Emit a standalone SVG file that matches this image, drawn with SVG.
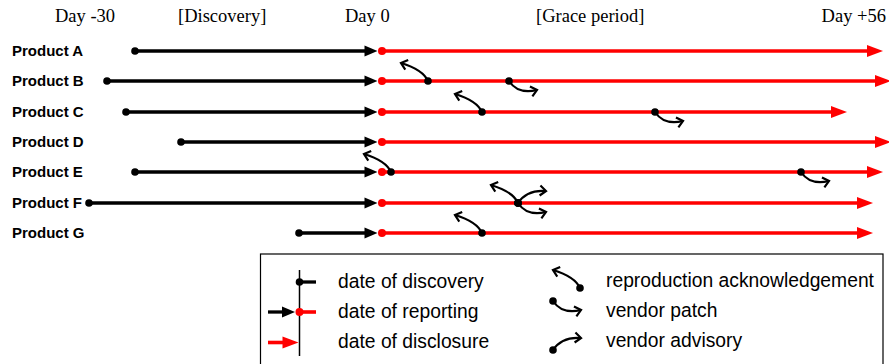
<svg xmlns="http://www.w3.org/2000/svg" width="889" height="364" viewBox="0 0 889 364">
<style>
.hdr{font-family:"Liberation Serif","Times New Roman",serif;font-size:18.5px;fill:#000}
.prod{font-family:"Liberation Sans",Arial,sans-serif;font-size:15px;font-weight:bold;fill:#000}
.leg{font-family:"Liberation Sans",Arial,sans-serif;font-size:19.3px;fill:#000}
.bl{stroke:#000;stroke-width:3.3;fill:none}
.rl{stroke:#f00;stroke-width:3.6;fill:none}
.bdot{fill:#000}
.rdot{fill:#f00}
.bhead{fill:#000}
.rhead{fill:#f00}
.cv{stroke:#000;stroke-width:2.2;fill:none;marker-end:url(#chev)}
</style>
<defs>
<marker id="chev" markerUnits="userSpaceOnUse" markerWidth="14" markerHeight="14" viewBox="-10 -7 14 14" refX="0" refY="0" orient="auto">
<path d="M-6,-5 L0,0 L-6,5" stroke="#000" stroke-width="2.2" fill="none" stroke-linejoin="miter"/>
</marker>
<g id="ack"><path class="cv" d="M0,0 C-4,-9 -14,-14 -27,-18"/><circle class="bdot" cx="0" cy="0" r="3.8"/></g>
<g id="patch"><path class="cv" d="M0,0 C6,9 16,12 28,9"/><circle class="bdot" cx="0" cy="0" r="3.8"/></g>
<g id="adv"><path class="cv" d="M0,0 C6,-9 16,-13 28,-12"/><circle class="bdot" cx="0" cy="0" r="3.8"/></g>
<path id="bh" d="M-13,-5.5 L0,0 L-13,5.5 Z"/>
<path id="rh" d="M-16,-6 L0,0 L-16,6 Z"/>
</defs>

<g id="header">
<text class="hdr" x="55" y="22">Day -30</text>
<text class="hdr" x="178" y="22">[Discovery]</text>
<text class="hdr" x="345" y="22">Day 0</text>
<text class="hdr" x="536" y="22">[Grace period]</text>
<text class="hdr" x="886" y="22" text-anchor="end">Day +56</text>
</g>

<g id="connectors">
<path class="bl" d="M135,51 H366"/>
<path class="bl" d="M107,81 H366"/>
<path class="bl" d="M126,112 H366"/>
<path class="bl" d="M181,142 H366"/>
<path class="bl" d="M135,172 H366"/>
<path class="bl" d="M89,203 H366"/>
<path class="bl" d="M299,233 H366"/>
<path class="rl" d="M382,51 H869"/>
<path class="rl" d="M382,81 H876"/>
<path class="rl" d="M382,112 H832"/>
<path class="rl" d="M382,142 H876"/>
<path class="rl" d="M382,172 H869"/>
<path class="rl" d="M382,203 H859"/>
<path class="rl" d="M382,233 H859"/>
</g>

<g id="productA">
<text class="prod" x="12" y="56">Product A</text>
<circle class="bdot" cx="135" cy="51" r="3.8"/>
<use href="#bh" class="bhead" x="377.5" y="51"/>
<circle class="rdot" cx="382" cy="51" r="4"/>
<use href="#rh" class="rhead" x="883" y="51"/>
</g>
<g id="productB">
<text class="prod" x="12" y="86">Product B</text>
<circle class="bdot" cx="107" cy="81" r="3.8"/>
<use href="#bh" class="bhead" x="377.5" y="81"/>
<circle class="rdot" cx="382" cy="81" r="4"/>
<use href="#rh" class="rhead" x="891" y="81"/>
<use href="#ack" x="428" y="81"/>
<use href="#patch" x="509" y="81"/>
</g>
<g id="productC">
<text class="prod" x="12" y="117">Product C</text>
<circle class="bdot" cx="126" cy="112" r="3.8"/>
<use href="#bh" class="bhead" x="377.5" y="112"/>
<circle class="rdot" cx="382" cy="112" r="4"/>
<use href="#rh" class="rhead" x="847" y="112"/>
<use href="#ack" x="482" y="112"/>
<use href="#patch" x="655" y="112"/>
</g>
<g id="productD">
<text class="prod" x="12" y="147">Product D</text>
<circle class="bdot" cx="181" cy="142" r="3.8"/>
<use href="#bh" class="bhead" x="377.5" y="142"/>
<circle class="rdot" cx="382" cy="142" r="4"/>
<use href="#rh" class="rhead" x="891" y="142"/>
</g>
<g id="productE">
<text class="prod" x="12" y="177">Product E</text>
<circle class="bdot" cx="135" cy="172" r="3.8"/>
<use href="#bh" class="bhead" x="377.5" y="172"/>
<circle class="rdot" cx="382" cy="172" r="4"/>
<use href="#rh" class="rhead" x="883" y="172"/>
<use href="#ack" x="391" y="172"/>
<use href="#patch" x="801" y="172"/>
</g>
<g id="productF">
<text class="prod" x="12" y="208">Product F</text>
<circle class="bdot" cx="89" cy="203" r="3.8"/>
<use href="#bh" class="bhead" x="377.5" y="203"/>
<circle class="rdot" cx="382" cy="203" r="4"/>
<use href="#rh" class="rhead" x="873" y="203"/>
<use href="#ack" x="518" y="203"/>
<use href="#adv" x="518" y="203"/>
<use href="#patch" x="518" y="203"/>
</g>
<g id="productG">
<text class="prod" x="12" y="238">Product G</text>
<circle class="bdot" cx="299" cy="233" r="3.8"/>
<use href="#bh" class="bhead" x="377.5" y="233"/>
<circle class="rdot" cx="382" cy="233" r="4"/>
<use href="#rh" class="rhead" x="873" y="233"/>
<use href="#ack" x="482" y="233"/>
</g>

<g id="legend">
<rect x="260.5" y="254" width="622.5" height="120" fill="none" stroke="#000" stroke-width="1.2"/>
<line x1="299.5" y1="270" x2="299.5" y2="356" stroke="#000" stroke-width="1.5"/>
<path class="bl" d="M299,282 H316"/>
<circle class="bdot" cx="299.5" cy="282" r="3.8"/>
<path class="bl" d="M268,312 H282"/>
<use href="#bh" class="bhead" x="295" y="312"/>
<path class="rl" d="M299,312 H316"/>
<circle class="rdot" cx="299.5" cy="312" r="4"/>
<path class="rl" d="M268,342.5 H284"/>
<use href="#rh" class="rhead" x="298.5" y="342.5"/>
<text class="leg" x="338" y="288">date of discovery</text>
<text class="leg" x="338" y="318">date of reporting</text>
<text class="leg" x="338" y="348">date of disclosure</text>
<use href="#ack" x="580" y="288"/>
<use href="#patch" x="553" y="301"/>
<use href="#adv" x="553" y="350"/>
<text class="leg" x="606" y="287">reproduction acknowledgement</text>
<text class="leg" x="606" y="317">vendor patch</text>
<text class="leg" x="606" y="347">vendor advisory</text>
</g>
</svg>
